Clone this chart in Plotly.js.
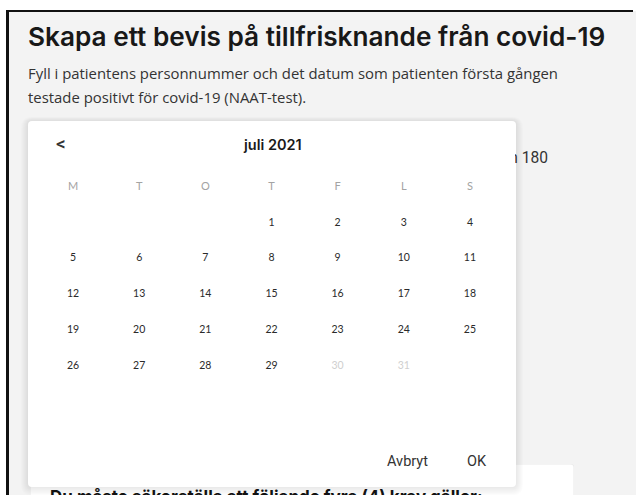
<!DOCTYPE html>
<html>
<head>
<meta charset="utf-8">
<script src="https://cdn.plot.ly/plotly-3.0.1.min.js"></script>
<style>html,body{margin:0;padding:0;background:#fff;}#chart{width:636px;height:495px;}</style>
</head>
<body>
<div id="chart"></div>
<script>
// ---- content ----
const titleText = "Skapa ett bevis på tillfrisknande från covid-19";
const introLines = ["Fyll i patientens personnummer och det datum som patienten första gången",
                    "testade positivt för covid-19 (NAAT-test)."];
const hiddenText = "n 180";
const monthLabel = "juli 2021";
const prevLabel = "<";
const weekdayLabels = ["M", "T", "O", "T", "F", "L", "S"];
const days = [1, 2, 3, 4, 5, 6, 7, 8, 9, 10, 11, 12, 13, 14, 15, 16, 17, 18, 19, 20, 21, 22, 23, 24, 25, 26, 27, 28, 29, 30, 31];
const firstWeekdayIndex = 3; // 1 juli 2021 = torsdag
const disabledDays = [30, 31];
const buttonLabels = ["Avbryt", "OK"];
const footerText = "Du måste säkerställa att följande fyra (4) krav gäller:";

// ---- helpers ----
const W = 636, H = 495;
const fx = x => x / W, fy = y => 1 - y / H;
function rect(x0, y0, x1, y1, fill, layer) {
  return {type: 'rect', xref: 'paper', yref: 'paper', x0: fx(x0), x1: fx(x1), y0: fy(y1), y1: fy(y0),
          fillcolor: fill, line: {width: 0}, layer: layer || 'below'};
}
function rrect(x0, y0, x1, y1, r, fill) {
  const X = fx, Y = fy;
  const p = `M ${X(x0 + r)},${Y(y0)} L ${X(x1 - r)},${Y(y0)} Q ${X(x1)},${Y(y0)} ${X(x1)},${Y(y0 + r)} ` +
            `L ${X(x1)},${Y(y1 - r)} Q ${X(x1)},${Y(y1)} ${X(x1 - r)},${Y(y1)} ` +
            `L ${X(x0 + r)},${Y(y1)} Q ${X(x0)},${Y(y1)} ${X(x0)},${Y(y1 - r)} ` +
            `L ${X(x0)},${Y(y0 + r)} Q ${X(x0)},${Y(y0)} ${X(x0 + r)},${Y(y0)} Z`;
  return {type: 'path', xref: 'paper', yref: 'paper', path: p, fillcolor: fill, line: {width: 0}, layer: 'below'};
}
function ann(text, x, y, font, xanchor, extra) {
  return Object.assign({text: text, x: fx(x), y: fy(y), xref: 'paper', yref: 'paper', showarrow: false,
          xanchor: xanchor || 'left', yanchor: 'middle', font: font, borderpad: 0}, extra || {});
}

// ---- calendar positions from the date logic ----
const enabled = days.filter(d => disabledDays.indexOf(d) < 0);
const col = d => (d - 1 + firstWeekdayIndex) % 7;
const row = d => Math.floor((d - 1 + firstWeekdayIndex) / 7);

const dayFont = {family: 'Lato, sans-serif', size: 10.5, color: '#2a2a2a'};
const traces = [
  {type: 'scatter', mode: 'text', x: weekdayLabels.map((_, i) => i), y: weekdayLabels.map(() => -1),
   text: weekdayLabels, textposition: 'middle center', textfont: {family: 'Lato, sans-serif', size: 11, color: '#a3a3a3'},
   hoverinfo: 'skip', showlegend: false},
  {type: 'scatter', mode: 'text', x: enabled.map(col), y: enabled.map(row), text: enabled.map(String),
   textposition: 'middle center', textfont: dayFont, hoverinfo: 'skip', showlegend: false},
  {type: 'scatter', mode: 'text', x: disabledDays.map(col), y: disabledDays.map(row), text: disabledDays.map(String),
   textposition: 'middle center', textfont: Object.assign({}, dayFont, {color: '#cfcfcf'}), hoverinfo: 'skip', showlegend: false}
];

// ---- page chrome ----
const shapes = [
  rect(8, 11, 636, 495, '#f3f3f3'),
  rrect(30, 464, 574, 500, 3, '#e9e9e9'),
  rrect(30.5, 464.5, 573.5, 500, 3, '#ffffff')
];
for (let i = 7; i >= 1; i--) {
  shapes.push(rrect(28 - i, 121 - i * 0.6, 516 + i, 487 + i * 1.2, 4 + i, 'rgba(0,0,0,0.013)'));
}
shapes.push(rrect(28, 121, 516, 487, 4, '#ffffff'));
shapes.push({type: 'line', xref: 'paper', yref: 'paper', x0: fx(7.5), x1: fx(7.5), y0: 0, y1: fy(10), line: {color: '#111', width: 3}, layer: 'above'});
shapes.push({type: 'line', xref: 'paper', yref: 'paper', x0: fx(6), x1: fx(633), y0: fy(11), y1: fy(11), line: {color: '#111', width: 2.2}, layer: 'above'});

const annotations = [
  ann(titleText, 27, 36, {family: 'Inter, sans-serif', size: 26.2, color: '#181818', weight: 600}),
  ann(introLines[0], 27, 73, {family: 'Open Sans, sans-serif', size: 14.9, color: '#333'}),
  ann(introLines[1], 27, 97, {family: 'Open Sans, sans-serif', size: 14.9, color: '#333'}),
  ann(hiddenText, 514, 158, {family: 'Roboto, sans-serif', size: 15.6, color: '#333'}, 'left', {width: 33, align: 'right'}),
  ann(prevLabel, 61, 143, {family: 'Roboto, sans-serif', size: 19, color: '#333', weight: 500}, 'center'),
  ann(monthLabel, 272, 144, {family: 'Inter, sans-serif', size: 14.5, color: '#1a1a1a', weight: 600}, 'center'),
  ann(buttonLabels[0], 407, 461, {family: 'Roboto, sans-serif', size: 14.5, color: '#333'}, 'center'),
  ann(buttonLabels[1], 477, 461, {family: 'Roboto, sans-serif', size: 14.5, color: '#333'}, 'center'),
  ann(footerText, 49, 497, {family: 'Inter, sans-serif', size: 17, color: '#111', weight: 700})
];

const layout = {
  width: W, height: H, margin: {l: 0, r: 0, t: 0, b: 0},
  paper_bgcolor: '#ffffff', plot_bgcolor: 'rgba(0,0,0,0)',
  xaxis: {domain: [fx(40), fx(503)], range: [-0.5, 6.5], visible: false, fixedrange: true},
  yaxis: {domain: [fy(384), fy(169.4)], range: [4.5, -1.5], visible: false, fixedrange: true},
  shapes: shapes, annotations: annotations, showlegend: false, hovermode: false
};
Plotly.newPlot('chart', traces, layout, {displayModeBar: false, staticPlot: true});
</script>
</body>
</html>
